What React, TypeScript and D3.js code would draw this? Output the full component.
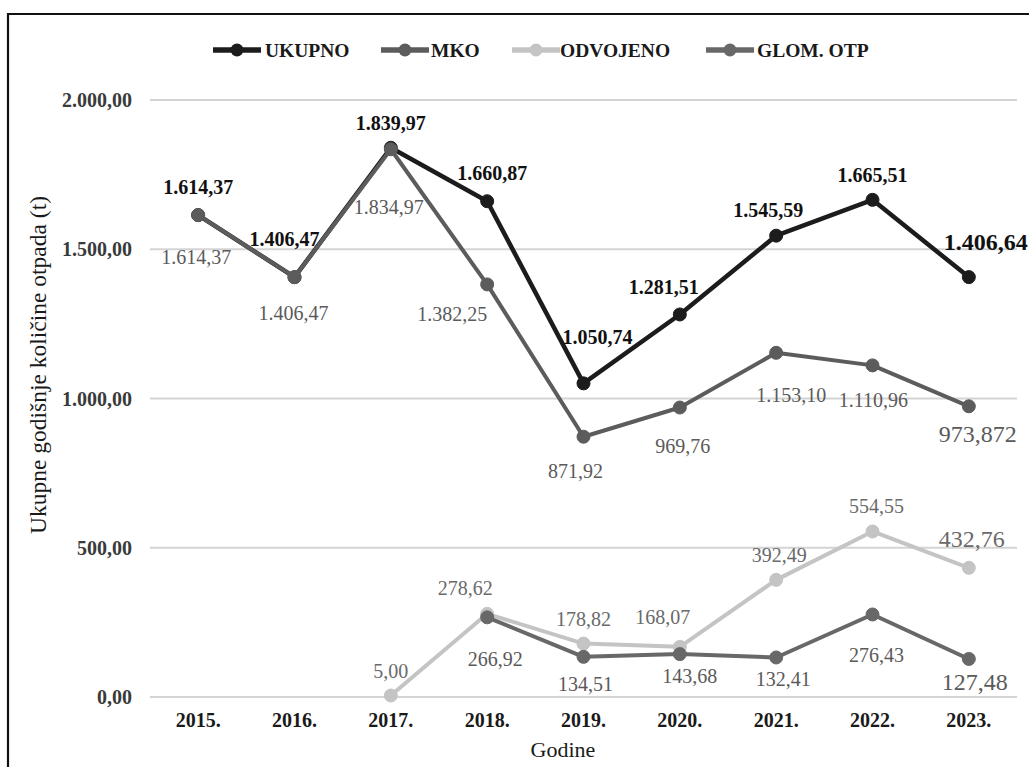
import React from "react";
import * as d3 from "d3";

// ---------- data ----------
const years = ["2015.", "2016.", "2017.", "2018.", "2019.", "2020.", "2021.", "2022.", "2023."];
const ukupno: (number | null)[] = [1614.37, 1406.47, 1839.97, 1660.87, 1050.74, 1281.51, 1545.59, 1665.51, 1406.64];
const mko: (number | null)[] = [1614.37, 1406.47, 1834.97, 1382.25, 871.92, 969.76, 1153.1, 1110.96, 973.872];
const odvojeno: (number | null)[] = [null, null, 5.0, 278.62, 178.82, 168.07, 392.49, 554.55, 432.76];
const glomOtp: (number | null)[] = [null, null, null, 266.92, 134.51, 143.68, 132.41, 276.43, 127.48];
const seriesNames = ["UKUPNO", "MKO", "ODVOJENO", "GLOM. OTP"];
const yTicks = [0, 500, 1000, 1500, 2000];

// ---------- label layout (offsets from the point, in px) ----------
const ukDx = [0, -10, 0, 5, 14, -16, -8, 0, 17];
const ukDy = [-28, -38, -25, -28, -46, -27, -26, -25, -35];
const mkDx = [-2, -1, -2, -35, -8, 3, 15, 1, 9];
const mkDy = [42, 36, 58, 30, 34, 38, 42, 35, 28];
const odDx = [0, 0, 0, -22, 0, -17, 3, 4, 3];
const odDy = [0, 0, -25, -26, -25, -30, -25, -25, -29];
const glDx = [0, 0, 0, 8, 2, 10, 7, 4, 6];
const glDy = [0, 0, 0, 42, 27, 22, 22, 41, 23];

const FONT = "Liberation Serif";

const locale = d3.formatLocale({ decimal: ",", thousands: ".", grouping: [3], currency: ["", ""] });
const fmt2 = locale.format(",.2f");
const fmt3 = locale.format(",.3f");
const fmtVal = (v: number) => (Math.abs(Math.round(v * 100) / 100 - v) > 1e-9 ? fmt3(v) : fmt2(v));

const W = 1029;
const H = 767;

const T = (props: any) => <text {...props} style={{ fontFamily: FONT }} />;

export default function App() {
  const x = d3.scaleBand<string>().domain(years).range([150, 1017]).paddingInner(0).paddingOuter(0);
  const cx = (i: number) => (x(years[i]) as number) + x.bandwidth() / 2;
  const y = d3.scaleLinear().domain([0, 2000]).range([697, 100]);

  const series = [
    { name: seriesNames[0], vals: ukupno, color: "#1c1c1c", width: 4.5, r: 6.5, labColor: "#111", bold: true, dx: ukDx, dy: ukDy },
    { name: seriesNames[1], vals: mko, color: "#5c5c5c", width: 4, r: 6.5, labColor: "#5a5a5a", bold: false, dx: mkDx, dy: mkDy },
    { name: seriesNames[2], vals: odvojeno, color: "#c4c4c4", width: 4, r: 6.5, labColor: "#6a6a6a", bold: false, dx: odDx, dy: odDy },
    { name: seriesNames[3], vals: glomOtp, color: "#686868", width: 4, r: 6.5, labColor: "#5a5a5a", bold: false, dx: glDx, dy: glDy },
  ];

  const line = d3
    .line<number | null>()
    .defined((d) => d != null)
    .x((_, i) => cx(i))
    .y((d) => y(d as number));

  const legendMarkX = [213, 381, 512, 706];
  const legendTextX = [265, 431, 560, 757];

  return (
    <svg width={W} height={H} style={{ position: "absolute", left: 0, top: 0, background: "#fff" }}>
      <rect x={0} y={0} width={W} height={H} fill="#ffffff" />
      {/* frame */}
      <path d={`M8,${H} L8,14 L${W},14`} fill="none" stroke="#111" strokeWidth={2.2} />

      {/* gridlines */}
      {yTicks.map((t) => (
        <g key={t}>
          <line x1={150} x2={1017} y1={y(t)} y2={y(t)} stroke="#d4d4d4" strokeWidth={1.8} />
          <T x={132} y={y(t)} textAnchor="end" dominantBaseline="central" fontSize={20} fontWeight="bold" fill="#3a3a3a">
            {fmt2(t)}
          </T>
        </g>
      ))}

      {/* category labels */}
      {years.map((yr, i) => (
        <T key={yr} x={cx(i)} y={720} textAnchor="middle" dominantBaseline="central" fontSize={20} fontWeight="bold" fill="#1a1a1a">
          {yr}
        </T>
      ))}

      {/* axis titles */}
      <T x={563} y={749} textAnchor="middle" dominantBaseline="central" fontSize={22} fill="#1a1a1a">
        Godine
      </T>
      <T transform={`translate(38,365) rotate(-90)`} textAnchor="middle" dominantBaseline="central" fontSize={23.5} fill="#1a1a1a">
        Ukupne godišnje količine otpada (t)
      </T>

      {/* lines + markers */}
      {series.map((s) => (
        <g key={s.name}>
          <path d={line(s.vals) || ""} fill="none" stroke={s.color} strokeWidth={s.width} strokeLinejoin="round" />
          {s.vals.map((v, i) =>
            v == null ? null : <circle key={i} cx={cx(i)} cy={y(v)} r={s.r} fill={s.color} stroke={s.color} strokeWidth={1} />
          )}
        </g>
      ))}

      {/* data labels */}
      {series.map((s) => (
        <g key={s.name + "-lab"}>
          {s.vals.map((v, i) =>
            v == null ? null : (
              <T
                key={i}
                x={cx(i) + s.dx[i]}
                y={y(v) + s.dy[i]}
                textAnchor="middle"
                dominantBaseline="central"
                fontSize={i === years.length - 1 ? 24 : 20}
                fontWeight={s.bold ? "bold" : "normal"}
                fill={s.labColor}
              >
                {fmtVal(v)}
              </T>
            )
          )}
        </g>
      ))}

      {/* legend */}
      {series.map((s, i) => (
        <g key={s.name + "-leg"}>
          <line x1={legendMarkX[i]} x2={legendMarkX[i] + 48} y1={50} y2={50} stroke={s.color} strokeWidth={5.5} />
          <circle cx={legendMarkX[i] + 24} cy={50} r={6.5} fill={s.color} />
          <T x={legendTextX[i]} y={50} dominantBaseline="central" fontSize={19.5} fontWeight="bold" fill="#1a1a1a">
            {s.name}
          </T>
        </g>
      ))}
    </svg>
  );
}
